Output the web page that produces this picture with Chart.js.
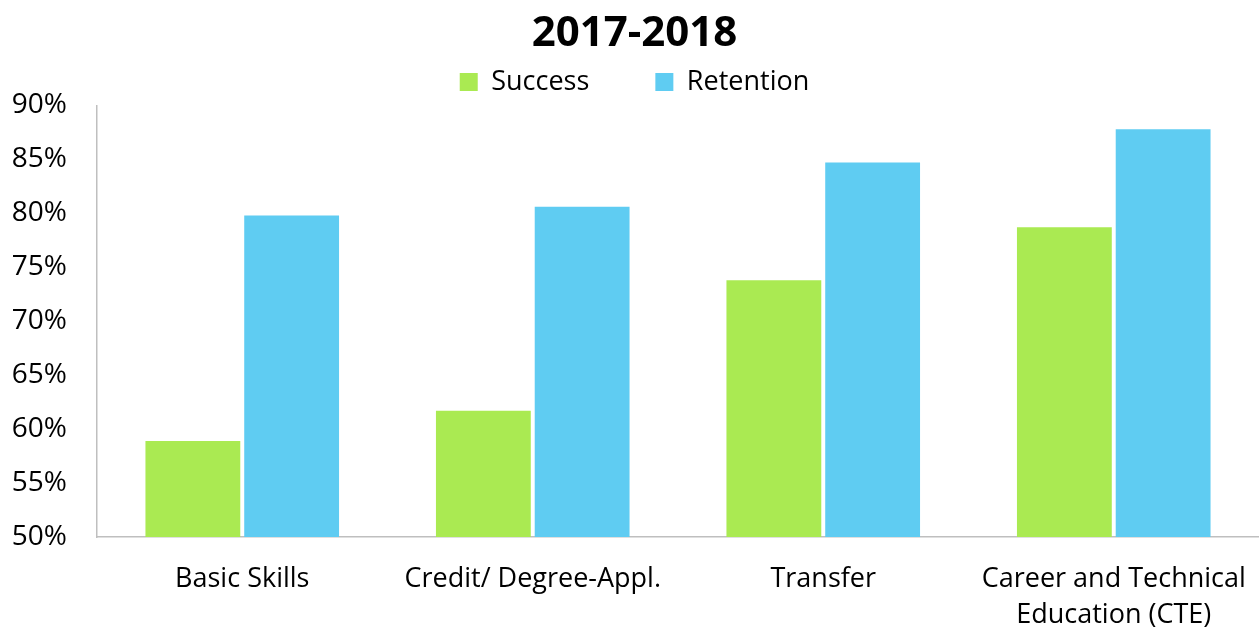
<!DOCTYPE html>
<html><head><meta charset="utf-8">
<script src="https://cdn.jsdelivr.net/npm/chart.js@4/dist/chart.umd.min.js"></script>
<style>html,body{margin:0;padding:0;background:#fff}#wrap{width:1259px;height:634px}</style>
</head><body><div id="wrap"><canvas id="c" width="1259" height="634"></canvas></div>
<script>
const categories = ["Basic Skills", "Credit/ Degree-Appl.", "Transfer", ["Career and Technical", "Education (CTE)"]];
const successValues = [58.9, 61.7, 73.8, 78.7];
const retentionValues = [79.8, 80.6, 84.7, 87.8];
const yTicks = [50, 55, 60, 65, 70, 75, 80, 85, 90];
const chartTitle = "2017-2018";

const FONT = "'Open Sans', 'Noto Sans', sans-serif";
new Chart(document.getElementById('c'), {
  type: 'bar',
  data: {
    labels: categories,
    datasets: [
      { label: 'Success', data: successValues, backgroundColor: '#AAEA52', barPercentage: 0.96, categoryPercentage: 0.68 },
      { label: 'Retention', data: retentionValues, backgroundColor: '#5FCCF2', barPercentage: 0.96, categoryPercentage: 0.68 }
    ]
  },
  options: {
    responsive: false,
    animation: false,
    layout: { padding: { left: 10, right: 0, top: 1, bottom: 0 } },
    plugins: {
      title: { display: true, text: chartTitle, color: '#000', font: { family: FONT, size: 42, weight: 'bold' }, padding: { top: 8, bottom: -57 } },
      legend: {
        display: true,
        labels: { color: '#000', font: { family: FONT, size: 27 }, boxWidth: 18, boxHeight: 18, padding: 66, useBorderRadius: false }
      },
      tooltip: { enabled: false }
    },
    scales: {
      y: {
        min: 50, max: 90,
        afterBuildTicks: (s) => { s.ticks = yTicks.map(v => ({ value: v })); },
        afterFit: (s) => { s.width = 87; },
        ticks: { color: '#000', font: { family: FONT, size: 28 }, padding: 22, callback: (v) => v + '%' },
        grid: { display: false },
        border: { color: '#BFBFBF', width: 1.5 }
      },
      x: {
        ticks: { color: '#000', font: { family: FONT, size: 27, lineHeight: 1.35 }, padding: 0, maxRotation: 0 },
        grid: { display: false, drawTicks: true, tickLength: 24 },
        border: { color: '#BFBFBF', width: 1.5 }
      }
    }
  }
});
</script></body></html>
